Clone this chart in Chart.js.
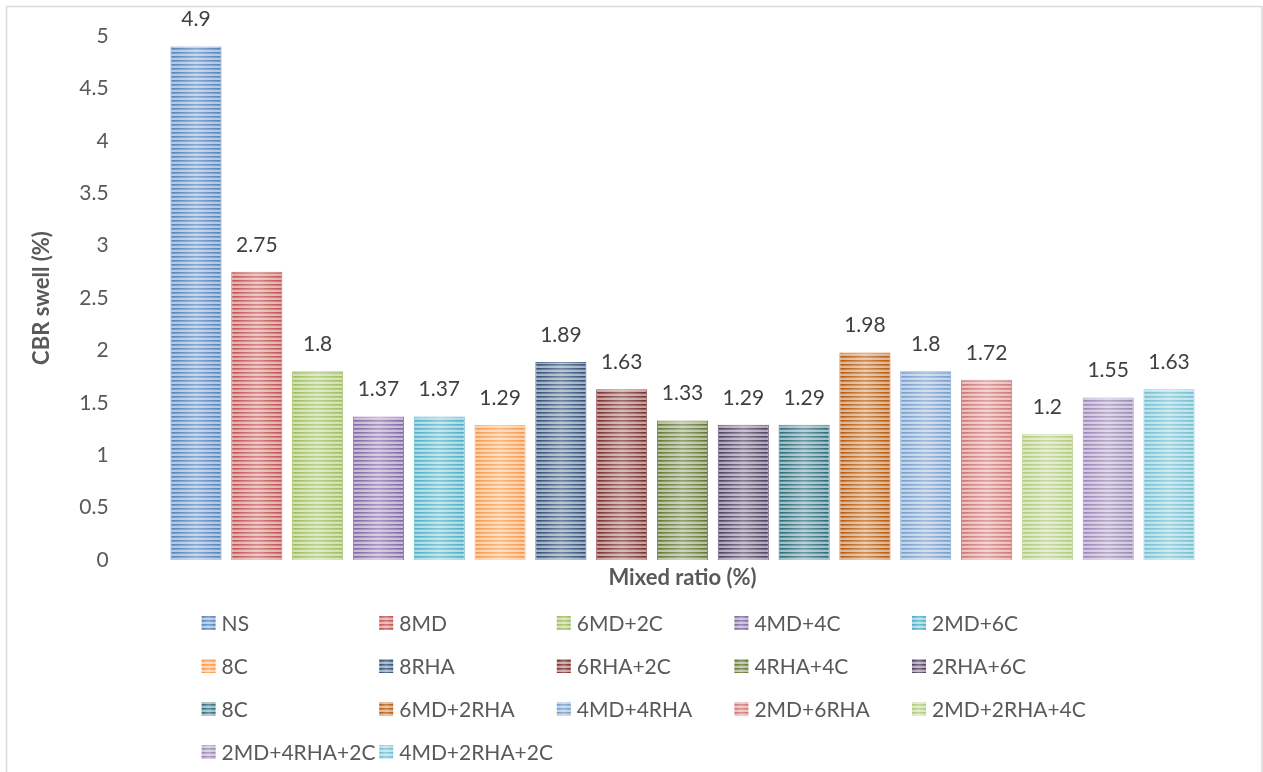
<!DOCTYPE html>
<html>
<head>
<meta charset="utf-8">
<title>CBR swell (%)</title>
<script src="https://cdn.jsdelivr.net/npm/chart.js@4.4.1/dist/chart.umd.min.js"></script>
<style>
  html, body { margin: 0; padding: 0; background: #ffffff; }
  #wrap { position: relative; width: 1263px; height: 772px; }
</style>
</head>
<body>
<div id="wrap"><canvas id="chart"></canvas></div>
<script>
// Mix designs and their CBR swell values
const mixes = ['NS', '8MD', '6MD+2C', '4MD+4C', '2MD+6C', '8C', '8RHA', '6RHA+2C',
  '4RHA+4C', '2RHA+6C', '8C', '6MD+2RHA', '4MD+4RHA', '2MD+6RHA', '2MD+2RHA+4C',
  '2MD+4RHA+2C', '4MD+2RHA+2C'];
const swell = [4.9, 2.75, 1.8, 1.37, 1.37, 1.29, 1.89, 1.63, 1.33, 1.29, 1.29,
  1.98, 1.8, 1.72, 1.2, 1.55, 1.63];
const barColors = ['#4F81BD', '#C0504D', '#9BBB59', '#8064A2', '#4BACC6', '#F79646',
  '#2C4D75', '#772C2A', '#5F7530', '#4D3B62', '#276A7C', '#B65708', '#729ACA',
  '#CD7371', '#AFC97A', '#9983B5', '#6FBDD1'];
const yTicks = [0, 0.5, 1, 1.5, 2, 2.5, 3, 3.5, 4, 4.5, 5];

const FONT = 'Lato, "Open Sans", sans-serif';
const TEXT = '#595959';

function tint(hex, f) {
  const n = parseInt(hex.slice(1), 16);
  const r = (n >> 16) & 255, g = (n >> 8) & 255, b = n & 255;
  const m = v => Math.round(v + (255 - v) * f);
  return `rgb(${m(r)},${m(g)},${m(b)})`;
}

// horizontal stripe fill: full colour lines alternating with pale lines
function stripes(hex) {
  const c = document.createElement('canvas');
  c.width = 4; c.height = 4;
  const g = c.getContext('2d');
  g.fillStyle = hex; g.fillRect(0, 0, 4, 4);
  g.fillStyle = tint(hex, 0.2); g.fillRect(0, 1, 4, 1);
  g.fillStyle = tint(hex, 0.55); g.fillRect(0, 2, 4, 2);
  return g.createPattern(c, 'repeat');
}
const fills = barColors.map(stripes);

// light frame around the chart
const framePlugin = {
  id: 'frame',
  beforeDraw(chart) {
    const ctx = chart.ctx;
    ctx.save();
    ctx.strokeStyle = '#d9d9d9';
    ctx.lineWidth = 1.5;
    ctx.strokeRect(6.5, 6.5, chart.width - 7.5, chart.height + 20);
    ctx.restore();
  }
};

// soft sheen across each bar and the value printed above it
const barDecor = {
  id: 'barDecor',
  afterDatasetsDraw(chart) {
    const ctx = chart.ctx;
    const meta = chart.getDatasetMeta(0);
    const values = chart.data.datasets[0].data;
    ctx.save();
    meta.data.forEach((bar, i) => {
      const { x, y, base, width } = bar.getProps(['x', 'y', 'base', 'width'], true);
      const l = x - width / 2;
      const grad = ctx.createLinearGradient(l, 0, l + width, 0);
      grad.addColorStop(0, 'rgba(255,255,255,0)');
      grad.addColorStop(0.5, 'rgba(255,255,255,0.32)');
      grad.addColorStop(1, 'rgba(255,255,255,0)');
      ctx.fillStyle = grad;
      ctx.fillRect(l, y, width, base - y);
      ctx.fillStyle = '#404040';
      ctx.font = `21px ${FONT}`;
      ctx.textAlign = 'center';
      ctx.textBaseline = 'middle';
      ctx.fillText(String(values[i]), x, y - 27);
    });
    ctx.restore();
  }
};

// legend laid out as a five-column grid under the axis title
const gridLegend = {
  id: 'gridLegend',
  afterDraw(chart) {
    const ctx = chart.ctx;
    const cols = 5, colW = 177.6, rowH = 43;
    const x0 = chart.chartArea.left + 36, y0 = 623;
    ctx.save();
    ctx.font = `21px ${FONT}`;
    ctx.textBaseline = 'middle';
    ctx.textAlign = 'left';
    chart.data.labels.forEach((name, i) => {
      const bx = x0 + (i % cols) * colW;
      const by = y0 + Math.floor(i / cols) * rowH;
      ctx.fillStyle = fills[i];
      ctx.fillRect(bx, by - 7, 14, 14);
      const grad = ctx.createLinearGradient(bx, 0, bx + 14, 0);
      grad.addColorStop(0, 'rgba(255,255,255,0)');
      grad.addColorStop(0.5, 'rgba(255,255,255,0.25)');
      grad.addColorStop(1, 'rgba(255,255,255,0)');
      ctx.fillStyle = grad;
      ctx.fillRect(bx, by - 7, 14, 14);
      ctx.fillStyle = TEXT;
      ctx.fillText(name, bx + 20, by + 1);
    });
    ctx.restore();
  }
};

new Chart(document.getElementById('chart'), {
  type: 'bar',
  data: {
    labels: mixes,
    datasets: [{
      label: 'CBR swell (%)',
      data: swell,
      backgroundColor: fills,
      borderColor: barColors.map(c => tint(c, 0.15)),
      borderWidth: 1,
      borderSkipped: 'bottom',
      barPercentage: 0.84,
      categoryPercentage: 1
    }]
  },
  options: {
    responsive: true,
    maintainAspectRatio: false,
    animation: false,
    layout: { padding: { left: 0, top: 36, right: 63.6, bottom: 181 } },
    plugins: {
      legend: { display: false },
      tooltip: { enabled: false }
    },
    scales: {
      x: {
        ticks: { display: false },
        grid: { display: false, drawTicks: false },
        border: { display: false },
        title: {
          display: true,
          text: 'Mixed ratio (%)',
          color: TEXT,
          font: { family: FONT, size: 22, weight: 'bold' },
          padding: { top: 0, bottom: 0 }
        },
        afterFit(scale) { scale.height = 31; }
      },
      y: {
        min: 0,
        max: 5,
        afterBuildTicks(scale) { scale.ticks = yTicks.map(v => ({ value: v })); },
        ticks: {
          color: TEXT,
          font: { family: FONT, size: 21 },
          padding: 57,
          callback: v => String(v)
        },
        grid: { display: false, drawTicks: false },
        border: { display: false },
        title: {
          display: true,
          text: 'CBR swell (%)',
          color: TEXT,
          font: { family: FONT, size: 22, weight: 'bold' },
          padding: { top: 29, bottom: 0 }
        },
        afterFit(scale) {
          // wide gap between labels and bars, but no extra room above/below the axis
          scale.width = 165.6;
          scale.paddingTop = 12;
          scale.paddingBottom = 12;
        }
      }
    }
  },
  plugins: [framePlugin, barDecor, gridLegend]
});
</script>
</body>
</html>
